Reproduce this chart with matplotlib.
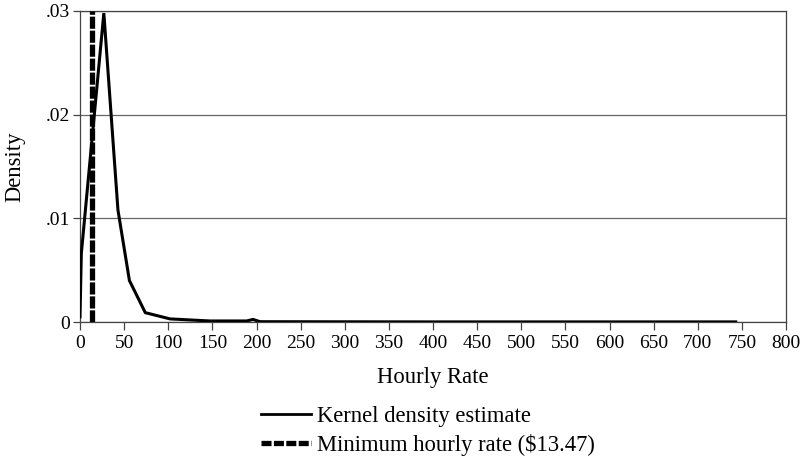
import matplotlib
matplotlib.use("Agg")
import matplotlib.pyplot as plt
from matplotlib.lines import Line2D

# Data
kde_x = [0, 1.5, 27, 43, 56, 74, 102, 147, 189, 196, 204, 300, 400, 500, 600, 700, 743]
kde_y = [0.0005, 0.0066, 0.0298, 0.0108, 0.0040, 0.0009, 0.0003, 0.0001, 0.0001, 0.00025, 0.00003, 0.00002, 0.00001, 0.00001, 0.00001, 0.00001, 0.00001]
min_rate = 13.47
xticks = list(range(0, 801, 50))
yticks = [0, 0.01, 0.02, 0.03]
ytick_labels = ["0", ".01", ".02", ".03"]

plt.rcParams['font.family'] = ['Liberation Serif', 'DejaVu Serif']

fig = plt.figure(figsize=(8, 4.57), dpi=100)
ax = fig.add_axes([0.1, 0.2954, 0.8825, 0.6806])

ax.plot(kde_x, kde_y, color='black', lw=2.2, solid_joinstyle='miter', zorder=3)
ax.axvline(min_rate, color='black', lw=3.8, linestyle=(0, (2.3, 0.35)), zorder=4)

ax.set_xlim(0, 800)
ax.set_ylim(0, 0.03)
ax.set_xticks(xticks)
ax.set_yticks(yticks)
ax.set_yticklabels(ytick_labels)
ax.yaxis.grid(True, color='#666666', lw=0.9)
ax.set_axisbelow(True)
for s in ax.spines.values():
    s.set_color('#444444')
    s.set_linewidth(0.9)
ax.tick_params(axis='x', direction='out', length=6, width=0.9, color='#444444', labelsize=14, pad=3)
ax.tick_params(axis='y', direction='out', length=5, width=0.9, color='#444444', labelsize=14, pad=2)

ax.set_xlabel("Hourly Rate", fontsize=16.3)
ax.xaxis.set_label_coords(0.5, -0.177)
ax.xaxis.label.set_va('center')
ax.set_ylabel("Density", fontsize=16.3)
ax.yaxis.set_label_coords(-0.092, 0.5)
ax.yaxis.label.set_va('center')

handles = [Line2D([0], [0], color='black', lw=2),
           Line2D([0], [0], color='black', lw=3.8, linestyle=(0, (1.9, 0.45)))]
labels = ["Kernel density estimate", "Minimum hourly rate ($13.47)"]
fig.legend(handles, labels, loc='upper center', bbox_to_anchor=(0.535, 0.111), frameon=False,
           fontsize=16.3, handlelength=2.2, handletextpad=0.3, labelspacing=0.28,
           borderaxespad=0, borderpad=0)

fig.savefig("out.png", dpi=100)
